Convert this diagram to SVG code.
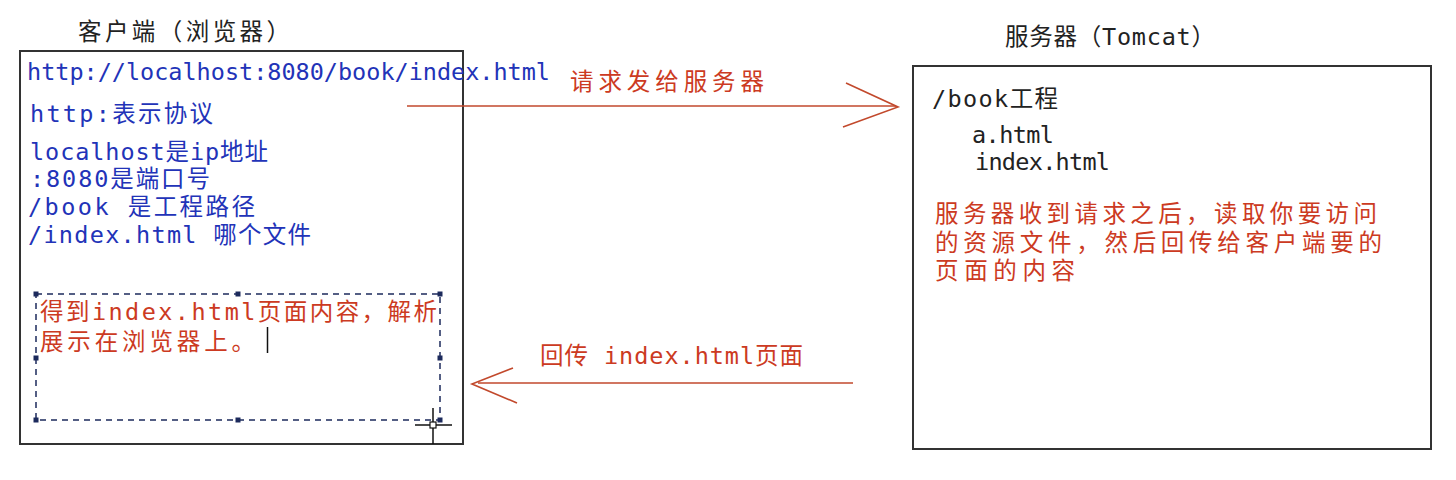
<svg xmlns="http://www.w3.org/2000/svg" width="1456" height="480" viewBox="0 0 1456 480">
<style>
.t{font-family:"DejaVu Sans Mono","Noto Sans CJK SC",monospace;font-size:23.5px}
.blue{fill:#2233b8}
.red{fill:#cc3a22}
.dark{fill:#222}
.box{fill:#fff;stroke:#333;stroke-width:2}
.sel{fill:none;stroke:#1c2a5c;stroke-width:1.5;stroke-dasharray:6 5}
.h{fill:#1c2a5c}
.arr{fill:none;stroke:#c2492c;stroke-width:1.6}
</style>
<rect width="1456" height="480" fill="#fff"/>
<g id="client">
<text class="t dark" x="78" y="40" textLength="212" lengthAdjust="spacing">客户端（浏览器）</text>
<rect class="box" x="20" y="51" width="443" height="393"/>
<text class="t blue" x="27" y="80" textLength="523" lengthAdjust="spacingAndGlyphs">http://localhost:8080/book/index.html</text>
<text class="t blue" x="30" y="122" textLength="183" lengthAdjust="spacing">http:表示协议</text>
<text class="t blue" x="30" y="160" textLength="238" lengthAdjust="spacing">localhost是ip地址</text>
<text class="t blue" x="30" y="187" textLength="180" lengthAdjust="spacing">:8080是端口号</text>
<text class="t blue" x="28" y="215" textLength="227" lengthAdjust="spacing">/book 是工程路径</text>
<text class="t blue" x="28" y="243" textLength="283" lengthAdjust="spacing">/index.html 哪个文件</text>
<rect class="sel" x="36" y="294" width="404" height="126"/>
<g class="h">
<rect x="33.5" y="291.5" width="5" height="5"/><rect x="235.5" y="291.5" width="5" height="5"/><rect x="437.5" y="291.5" width="5" height="5"/>
<rect x="33.5" y="355.5" width="5" height="5"/><rect x="437.5" y="355.5" width="5" height="5"/>
<rect x="33.5" y="417.5" width="5" height="5"/><rect x="235.5" y="417.5" width="5" height="5"/><rect x="437.5" y="417.5" width="5" height="5"/>
</g>
<text class="t red" x="40" y="320" textLength="397" lengthAdjust="spacing">得到index.html页面内容，解析</text>
<text class="t red" x="40" y="350" textLength="215" lengthAdjust="spacing">展示在浏览器上。</text>
<line x1="267.5" y1="327" x2="267.5" y2="353" stroke="#111" stroke-width="1.5"/>
<g stroke="#111" stroke-width="1.5">
<line x1="415" y1="425" x2="452" y2="425"/>
<line x1="433" y1="408" x2="433" y2="444"/>
</g>
<rect x="430" y="422" width="6" height="6" fill="#fff" stroke="#111" stroke-width="1.2"/>
</g>
<g id="server">
<text class="t dark" x="1005" y="45" textLength="210" lengthAdjust="spacing">服务器（Tomcat）</text>
<rect class="box" x="913" y="66" width="518" height="383"/>
<text class="t dark" x="932" y="107" textLength="126" lengthAdjust="spacing">/book工程</text>
<text class="t dark" x="972" y="143" textLength="82" lengthAdjust="spacing">a.html</text>
<text class="t dark" x="975" y="170" textLength="135" lengthAdjust="spacing">index.html</text>
<text class="t red" x="935" y="222" textLength="442" lengthAdjust="spacing">服务器收到请求之后，读取你要访问</text>
<text class="t red" x="935" y="251" textLength="447" lengthAdjust="spacing">的资源文件，然后回传给客户端要的</text>
<text class="t red" x="935" y="279" textLength="140" lengthAdjust="spacing">页面的内容</text>
</g>
<g id="connectors">
<g id="request">
<line class="arr" x1="407" y1="106" x2="896" y2="106"/>
<polyline class="arr" points="846,83 898,107 843,127"/>
<text class="t red" x="570" y="90" textLength="194" lengthAdjust="spacing">请求发给服务器</text>
</g>
<g id="response">
<line class="arr" x1="853" y1="383" x2="478" y2="383"/>
<polyline class="arr" points="513,368 472,384 517,403"/>
<text class="t red" x="540" y="364" textLength="263" lengthAdjust="spacing">回传 index.html页面</text>
</g>
</g>
</svg>
